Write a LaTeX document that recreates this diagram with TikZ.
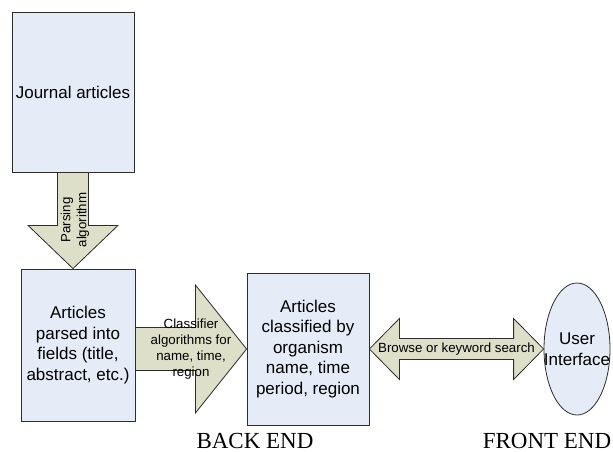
\documentclass[tikz,border=0pt]{standalone}
\usepackage{fontspec}
\setmainfont{Liberation Sans}
\newfontfamily\endfont{Liberation Serif}
\usetikzlibrary{shapes,calc}
\definecolor{boxfill}{RGB}{230,236,247}
\definecolor{arrowfill}{RGB}{221,223,200}
\definecolor{edge}{RGB}{45,45,45}
\tikzset{
  stage/.style={draw=edge,fill=boxfill,rectangle,inner sep=0pt,line width=0.8pt,align=center,font=\fontsize{17}{20.5}\selectfont},
  fat/.style={draw=edge,fill=arrowfill,line width=0.8pt,line join=miter},
  fattext/.style={align=center,inner sep=0pt,font=\fontsize{13.3}{16}\selectfont},
  endlabel/.style={inner sep=0pt,anchor=base,font=\endfont\fontsize{23}{27}\selectfont}
}

\begin{document}
\begin{tikzpicture}[x=1pt,y=-1pt]
\useasboundingbox (0,0) rectangle (613,452);
%boxes
\node[stage,minimum width=122pt,minimum height=160pt] (journal) at (73,92) {Journal articles};
\node[stage,minimum width=114pt,minimum height=152pt] (parsed) at (78,345) {Articles\\parsed into\\fields (title,\\abstract, etc.)};
\node[stage,minimum width=122pt,minimum height=152pt] (classified) at (308,349) {Articles\\classified by\\organism\\name, time\\period, region};
\node[stage,ellipse,minimum width=66pt,minimum height=132pt] (ui) at (577,349) {};
\node[stage,draw=none,fill=none] (uitext) at (ui.center) {User\\Interface};
%parsing arrow
\draw[fat] ($(journal.south)+(-15.5,0)$) -- ++(31,0) -- ++(0,53) -- ++(29.5,0) -- (journal.south |- parsed.north)
  -- ($(journal.south)+(-45,53)$) -- ++(29.5,0) -- cycle;
%classifier arrow
\coordinate (c0) at (parsed.east |- classified.west);
\draw[fat] ($(c0)+(0,-21.5)$) -- ++(60,0) -- ++(0,-42.5) -- (classified.west)
  -- ($(c0)+(60,64)$) -- ++(0,-42.5) -- ($(c0)+(0,21.5)$) -- cycle;
%browse arrow
\draw[fat] (classified.east) -- ++(30,-30.5) -- ++(0,20) -- ($(ui.west)+(-30,-10.5)$) -- ++(0,-20) -- (ui.west)
  -- ++(-30,30.5) -- ++(0,-20) -- ($(classified.east)+(30,10.5)$) -- ++(0,20) -- cycle;
%arrow texts
\node[fattext,rotate=90] (parsetext) at (75,220) {Parsing\\algorithm};
\node[fattext] (classtext) at (191,349) {Classifier\\algorithms for\\name, time,\\region};
\node[fattext] (browsetext) at ($(classified.east)!0.5!(ui.west)$) {Browse or keyword search};
%labels
\node[endlabel] (backend) at (255,448) {BACK END};
\node[endlabel] (frontend) at (547,448) {FRONT END};
\end{tikzpicture}
\end{document}
